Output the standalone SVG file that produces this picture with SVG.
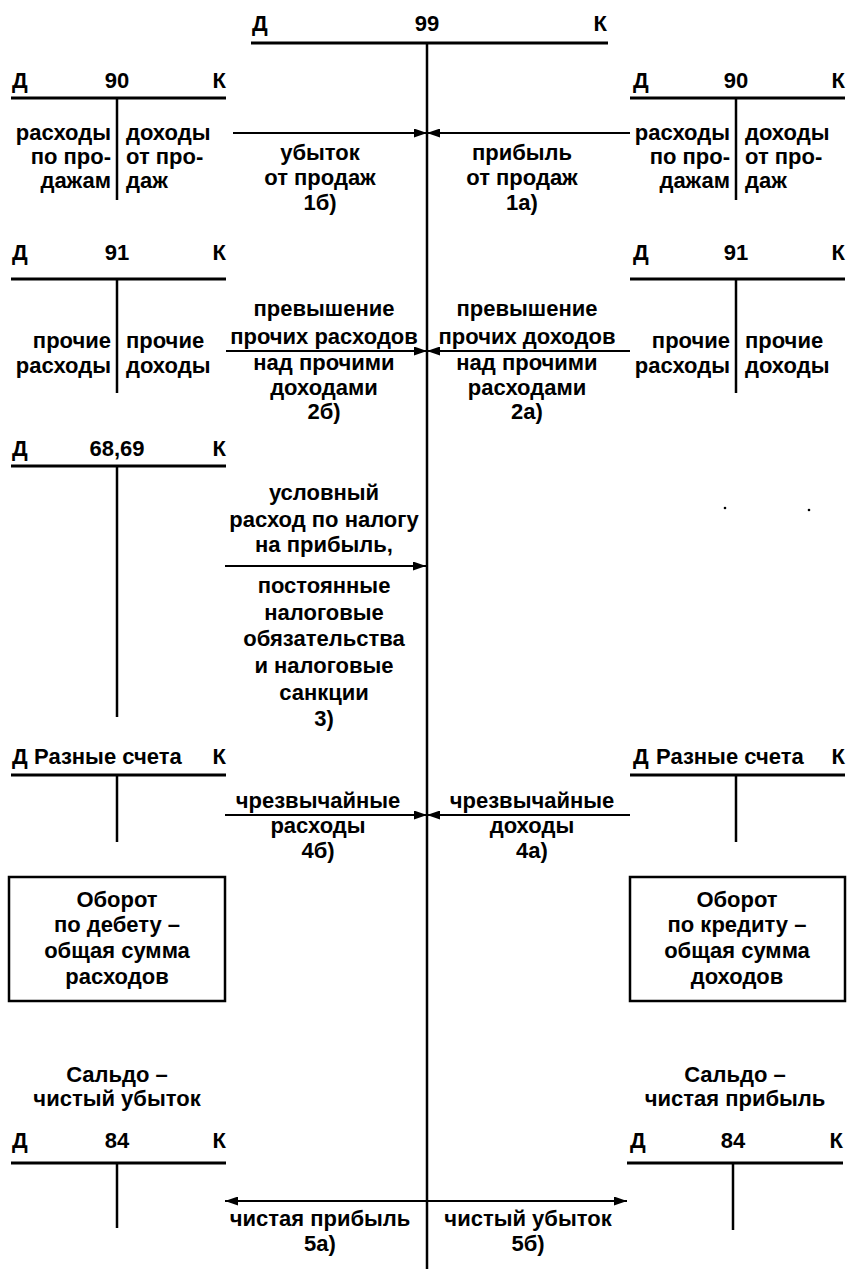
<svg xmlns="http://www.w3.org/2000/svg" width="847" height="1269" viewBox="0 0 847 1269">
  <style>
    .t { font-family: "Liberation Sans", Arial, sans-serif; font-size: 22px; font-weight: bold; fill: #000; }
    .m { text-anchor: middle; }
    .e { text-anchor: end; }
    .hz { stroke: #000; stroke-width: 3; fill: none; }
    .vt { stroke: #000; stroke-width: 2.5; fill: none; }
    .ar { stroke: #000; stroke-width: 2.2; fill: none; marker-end: url(#head); }
    .box { stroke: #000; stroke-width: 2.5; fill: #fff; }
  </style>
  <defs>
    <marker id="head" markerUnits="userSpaceOnUse" markerWidth="13" markerHeight="9" refX="13" refY="4.5" orient="auto-start-reverse">
      <path d="M0,0 L13,4.5 L0,9 z" fill="#000"/>
    </marker>
  </defs>
  <rect width="847" height="1269" fill="#fff"/>

  <!-- account 99 with its long dividing line -->
  <g id="acc99">
    <line class="hz" x1="251" y1="43" x2="608" y2="43"/>
    <line class="vt" x1="427" y1="43" x2="427" y2="1269"/>
    <text class="t" x="252" y="31">Д</text>
    <text class="t m" x="427" y="31">99</text>
    <text class="t e" x="607" y="31">К</text>
  </g>

  <!-- account 90, debit side -->
  <g id="acc90-left">
    <line class="hz" x1="11" y1="98" x2="226" y2="98"/>
    <line class="vt" x1="117" y1="98" x2="117" y2="200"/>
    <text class="t" x="12" y="88">Д</text>
    <text class="t m" x="117" y="88">90</text>
    <text class="t e" x="226" y="88">К</text>
    <text class="t e" x="111" y="140">расходы</text>
    <text class="t e" x="111" y="164">по про-</text>
    <text class="t e" x="111" y="188">дажам</text>
    <text class="t" x="126" y="140">доходы</text>
    <text class="t" x="126" y="164">от про-</text>
    <text class="t" x="126" y="188">даж</text>
  </g>

  <!-- account 90, credit side -->
  <g id="acc90-right">
    <line class="hz" x1="630" y1="98" x2="845" y2="98"/>
    <line class="vt" x1="736" y1="98" x2="736" y2="200"/>
    <text class="t" x="633" y="88">Д</text>
    <text class="t m" x="736" y="88">90</text>
    <text class="t e" x="845" y="88">К</text>
    <text class="t e" x="730" y="140">расходы</text>
    <text class="t e" x="730" y="164">по про-</text>
    <text class="t e" x="730" y="188">дажам</text>
    <text class="t" x="745" y="140">доходы</text>
    <text class="t" x="745" y="164">от про-</text>
    <text class="t" x="745" y="188">даж</text>
  </g>

  <!-- account 91, debit side -->
  <g id="acc91-left">
    <line class="hz" x1="11" y1="279" x2="226" y2="279"/>
    <line class="vt" x1="117" y1="279" x2="117" y2="393"/>
    <text class="t" x="12" y="260">Д</text>
    <text class="t m" x="117" y="260">91</text>
    <text class="t e" x="226" y="260">К</text>
    <text class="t e" x="111" y="348">прочие</text>
    <text class="t e" x="111" y="373">расходы</text>
    <text class="t" x="126" y="348">прочие</text>
    <text class="t" x="126" y="373">доходы</text>
  </g>

  <!-- account 91, credit side -->
  <g id="acc91-right">
    <line class="hz" x1="630" y1="279" x2="845" y2="279"/>
    <line class="vt" x1="736" y1="279" x2="736" y2="393"/>
    <text class="t" x="633" y="260">Д</text>
    <text class="t m" x="736" y="260">91</text>
    <text class="t e" x="845" y="260">К</text>
    <text class="t e" x="730" y="348">прочие</text>
    <text class="t e" x="730" y="373">расходы</text>
    <text class="t" x="745" y="348">прочие</text>
    <text class="t" x="745" y="373">доходы</text>
  </g>

  <!-- accounts 68, 69 -->
  <g id="acc6869">
    <line class="hz" x1="11" y1="466" x2="226" y2="466"/>
    <line class="vt" x1="117" y1="466" x2="117" y2="717"/>
    <text class="t" x="12" y="456">Д</text>
    <text class="t m" x="117" y="456">68,69</text>
    <text class="t e" x="226" y="456">К</text>
  </g>

  <!-- sundry accounts, debit side -->
  <g id="sundry-left">
    <line class="hz" x1="11" y1="775" x2="226" y2="775"/>
    <line class="vt" x1="117" y1="775" x2="117" y2="842"/>
    <text class="t" x="12" y="764">Д</text>
    <text class="t" x="34" y="764">Разные счета</text>
    <text class="t e" x="226" y="764">К</text>
  </g>

  <!-- sundry accounts, credit side -->
  <g id="sundry-right">
    <line class="hz" x1="630" y1="775" x2="845" y2="775"/>
    <line class="vt" x1="736" y1="775" x2="736" y2="842"/>
    <text class="t" x="633" y="764">Д</text>
    <text class="t" x="656" y="764">Разные счета</text>
    <text class="t e" x="845" y="764">К</text>
  </g>

  <!-- turnover boxes -->
  <g id="turnover-debit">
    <rect class="box" x="9" y="877" width="216" height="124"/>
    <text class="t m" x="117" y="907">Оборот</text>
    <text class="t m" x="117" y="932">по дебету –</text>
    <text class="t m" x="117" y="958">общая сумма</text>
    <text class="t m" x="117" y="984">расходов</text>
  </g>
  <g id="turnover-credit">
    <rect class="box" x="630" y="877" width="215" height="124"/>
    <text class="t m" x="737" y="907">Оборот</text>
    <text class="t m" x="737" y="932">по кредиту –</text>
    <text class="t m" x="737" y="958">общая сумма</text>
    <text class="t m" x="737" y="984">доходов</text>
  </g>

  <!-- balance captions -->
  <g id="balance-loss">
    <text class="t m" x="117" y="1082">Сальдо –</text>
    <text class="t m" x="117" y="1106">чистый убыток</text>
  </g>
  <g id="balance-profit">
    <text class="t m" x="735" y="1082">Сальдо –</text>
    <text class="t m" x="735" y="1106">чистая прибыль</text>
  </g>

  <!-- account 84, both sides -->
  <g id="acc84-left">
    <line class="hz" x1="11" y1="1163" x2="226" y2="1163"/>
    <line class="vt" x1="117" y1="1163" x2="117" y2="1228"/>
    <text class="t" x="12" y="1148">Д</text>
    <text class="t m" x="117" y="1148">84</text>
    <text class="t e" x="226" y="1148">К</text>
  </g>
  <g id="acc84-right">
    <line class="hz" x1="627" y1="1163" x2="843" y2="1163"/>
    <line class="vt" x1="733" y1="1163" x2="733" y2="1230"/>
    <text class="t" x="630" y="1148">Д</text>
    <text class="t m" x="733" y="1148">84</text>
    <text class="t e" x="843" y="1148">К</text>
  </g>

  <!-- postings into and out of account 99 -->
  <g id="connectors">
    <path class="ar" d="M233,133 H427"/>
    <path class="ar" d="M630,133 H427"/>
    <path class="ar" d="M226,351 H427"/>
    <path class="ar" d="M630,351 H427"/>
    <path class="ar" d="M225,566 H426"/>
    <path class="ar" d="M225,815 H427"/>
    <path class="ar" d="M630,815 H427"/>
    <path class="ar" d="M225,1201 H627" marker-start="url(#head)"/>
  </g>

  <!-- posting labels -->
  <g id="labels">
    <text class="t m" x="320" y="160">убыток</text>
    <text class="t m" x="320" y="185">от продаж</text>
    <text class="t m" x="320" y="210">1б)</text>
    <text class="t m" x="522" y="160">прибыль</text>
    <text class="t m" x="522" y="185">от продаж</text>
    <text class="t m" x="522" y="210">1а)</text>

    <text class="t m" x="324" y="316">превышение</text>
    <text class="t m" x="324" y="344">прочих расходов</text>
    <text class="t m" x="324" y="370">над прочими</text>
    <text class="t m" x="324" y="395">доходами</text>
    <text class="t m" x="324" y="419">2б)</text>
    <text class="t m" x="527" y="316">превышение</text>
    <text class="t m" x="527" y="344">прочих доходов</text>
    <text class="t m" x="527" y="370">над прочими</text>
    <text class="t m" x="527" y="395">расходами</text>
    <text class="t m" x="527" y="419">2а)</text>

    <text class="t m" x="324" y="500">условный</text>
    <text class="t m" x="324" y="527">расход по налогу</text>
    <text class="t m" x="324" y="552">на прибыль,</text>
    <text class="t m" x="324" y="593">постоянные</text>
    <text class="t m" x="324" y="620">налоговые</text>
    <text class="t m" x="324" y="646">обязательства</text>
    <text class="t m" x="324" y="673">и налоговые</text>
    <text class="t m" x="324" y="700">санкции</text>
    <text class="t m" x="324" y="726">3)</text>

    <text class="t m" x="318" y="808">чрезвычайные</text>
    <text class="t m" x="318" y="833">расходы</text>
    <text class="t m" x="318" y="858">4б)</text>
    <text class="t m" x="532" y="808">чрезвычайные</text>
    <text class="t m" x="532" y="833">доходы</text>
    <text class="t m" x="532" y="858">4а)</text>

    <text class="t m" x="320" y="1226">чистая прибыль</text>
    <text class="t m" x="320" y="1251">5а)</text>
    <text class="t m" x="528" y="1226">чистый убыток</text>
    <text class="t m" x="528" y="1251">5б)</text>
  </g>

  <!-- two small specks to the right of the tax posting -->
  <circle cx="725" cy="508" r="1.3" fill="#000"/>
  <circle cx="809" cy="510" r="1.3" fill="#000"/>
</svg>
